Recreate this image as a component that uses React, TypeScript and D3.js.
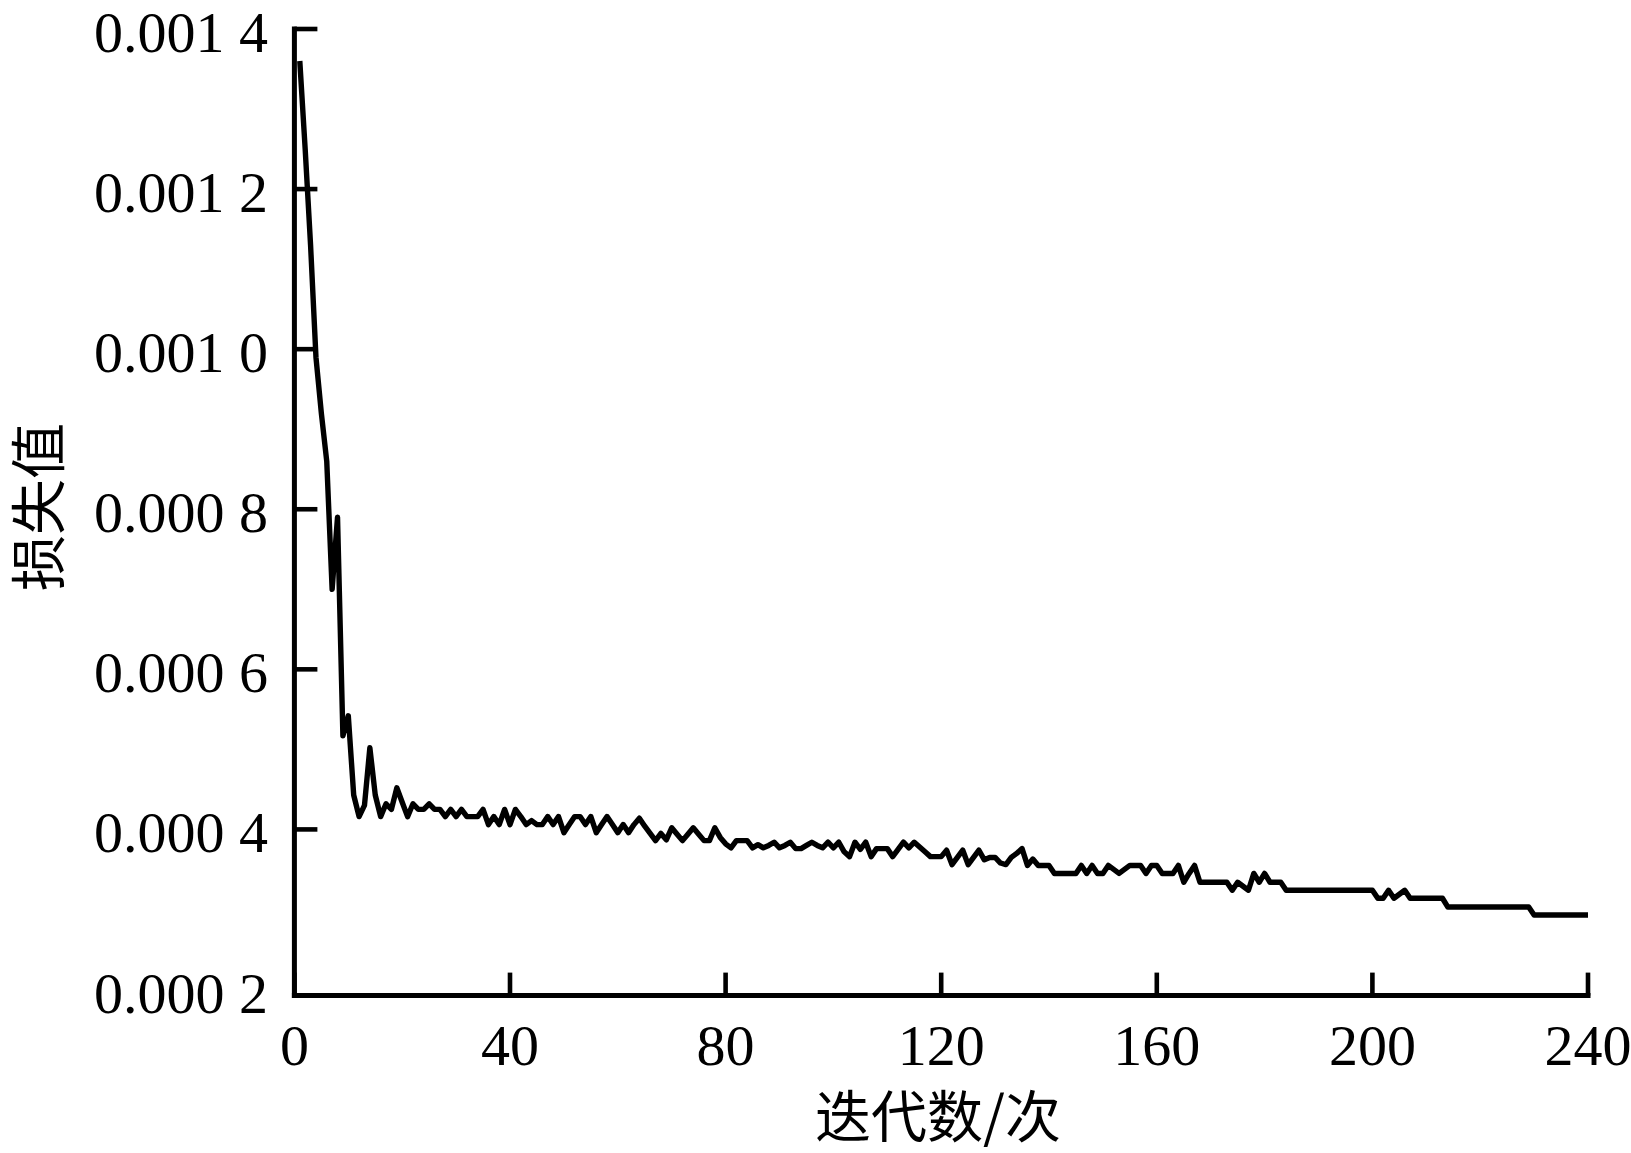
import React from 'react';
import * as d3 from 'd3';

// Loss value per iteration (iterations 1..240)
const lossValues: number[] = [
  0.00136, 0.00125, 0.00113, 0.00099, 0.00092, 0.00086, 0.0007, 0.00079, 0.000517, 0.000542,
  0.000443, 0.000416, 0.00043, 0.000502, 0.000443, 0.000416, 0.000432, 0.000425, 0.000452, 0.000434,
  0.000416, 0.000432, 0.000425, 0.000425, 0.000432, 0.000425, 0.000425, 0.000416, 0.000425, 0.000416,
  0.000425, 0.000416, 0.000416, 0.000416, 0.000425, 0.000406, 0.000416, 0.000406, 0.000425, 0.000406,
  0.000425, 0.000416, 0.000406, 0.000411, 0.000406, 0.000406, 0.000416, 0.000406, 0.000416, 0.000396,
  0.000406, 0.000416, 0.000416, 0.000406, 0.000416, 0.000396, 0.000406, 0.000416, 0.000406, 0.000396,
  0.000406, 0.000396, 0.000406, 0.000414, 0.000404, 0.000395, 0.000386, 0.000395, 0.000387, 0.000402,
  0.000394, 0.000386, 0.000394, 0.000402, 0.000394, 0.000386, 0.000386, 0.000402, 0.00039, 0.000382,
  0.000377, 0.000386, 0.000386, 0.000386, 0.000377, 0.000381, 0.000377, 0.00038, 0.000384, 0.000377,
  0.00038, 0.000384, 0.000376, 0.000376, 0.00038, 0.000384, 0.00038, 0.000377, 0.000384, 0.000377,
  0.000384, 0.000372, 0.000366, 0.000384, 0.000375, 0.000384, 0.000366, 0.000376, 0.000376, 0.000376,
  0.000366, 0.000375, 0.000384, 0.000377, 0.000384, 0.000378, 0.000372, 0.000366, 0.000366, 0.000366,
  0.000374, 0.000356, 0.000365, 0.000374, 0.000356, 0.000365, 0.000374, 0.000362, 0.000365, 0.000365,
  0.000358, 0.000356, 0.000365, 0.00037, 0.000376, 0.000355, 0.000363, 0.000355, 0.000355, 0.000355,
  0.000345, 0.000345, 0.000345, 0.000345, 0.000345, 0.000355, 0.000345, 0.000355, 0.000345, 0.000345,
  0.000355, 0.00035, 0.000345, 0.00035, 0.000355, 0.000355, 0.000355, 0.000345, 0.000355, 0.000355,
  0.000345, 0.000345, 0.000345, 0.000355, 0.000334, 0.000345, 0.000355, 0.000334, 0.000334, 0.000334,
  0.000334, 0.000334, 0.000334, 0.000324, 0.000334, 0.000329, 0.000324, 0.000345, 0.000334, 0.000345,
  0.000334, 0.000334, 0.000334, 0.000324, 0.000324, 0.000324, 0.000324, 0.000324, 0.000324, 0.000324,
  0.000324, 0.000324, 0.000324, 0.000324, 0.000324, 0.000324, 0.000324, 0.000324, 0.000324, 0.000324,
  0.000314, 0.000314, 0.000324, 0.000314, 0.000319, 0.000324, 0.000314, 0.000314, 0.000314, 0.000314,
  0.000314, 0.000314, 0.000314, 0.000303, 0.000303, 0.000303, 0.000303, 0.000303, 0.000303, 0.000303,
  0.000303, 0.000303, 0.000303, 0.000303, 0.000303, 0.000303, 0.000303, 0.000303, 0.000303, 0.000293,
  0.000293, 0.000293, 0.000293, 0.000293, 0.000293, 0.000293, 0.000293, 0.000293, 0.000293, 0.000293,
];

const xTicks: number[] = [0, 40, 80, 120, 160, 200, 240];
const xTickLabels: string[] = ['0', '40', '80', '120', '160', '200', '240'];
const yTicks: number[] = [0.0002, 0.0004, 0.0006, 0.0008, 0.001, 0.0012, 0.0014];
const yTickLabels: string[] = ['0.000 2', '0.000 4', '0.000 6', '0.000 8', '0.001 0', '0.001 2', '0.001 4'];
const xTitle = '迭代数/次';
const yTitle = '损失值';

const W = 1631;
const H = 1153;
const left = 294.4;
const right = 1588;
const top = 29;
const bottom0002 = 989.5;
const axisY = 995.6;
const tickLen = 23;
const serif = '"Liberation Serif", "Times New Roman", serif';
const cjk = '"Noto Sans CJK SC", "Noto Sans CJK JP", sans-serif';

export default function App() {
  const x = d3.scaleLinear().domain([0, 240]).range([left, right]);
  const y = d3.scaleLinear().domain([0.0002, 0.0014]).range([bottom0002, top]);
  const pts = lossValues.map((v, i) => [i + 1, v] as [number, number]);
  const line = d3
    .line<[number, number]>()
    .x((d) => x(d[0]))
    .y((d) => y(d[1]));

  return (
    <svg
      width={W}
      height={H}
      viewBox={`0 0 ${W} ${H}`}
      style={{ position: 'absolute', left: 0, top: 0, background: '#fff' }}
    >
      <rect x={0} y={0} width={W} height={H} fill="#fff" />
      {/* axes */}
      <line x1={left} y1={top - 2.4} x2={left} y2={axisY + 2.5} stroke="#000" strokeWidth={5} />
      <line x1={left - 2.5} y1={axisY} x2={right + 2.5} y2={axisY} stroke="#000" strokeWidth={5} />
      {yTicks.map((t, i) => (
        <g key={'y' + i}>
          {t > 0.00021 && (
            <line x1={left} x2={left + tickLen} y1={y(t)} y2={y(t)} stroke="#000" strokeWidth={4.6} />
          )}
          <text
            x={268}
            y={y(t) + 23}
            textAnchor="end"
            fontFamily={serif}
            fontSize={58}
            fill="#000"
          >
            {yTickLabels[i]}
          </text>
        </g>
      ))}
      {xTicks.map((t, i) => (
        <g key={'x' + i}>
          <line x1={x(t)} x2={x(t)} y1={axisY} y2={axisY - tickLen} stroke="#000" strokeWidth={4.6} />
          <text
            x={x(t)}
            y={1065}
            textAnchor="middle"
            fontFamily={serif}
            fontSize={58}
            fill="#000"
          >
            {xTickLabels[i]}
          </text>
        </g>
      ))}
      <path
        d={line(pts) || ''}
        fill="none"
        stroke="#000"
        strokeWidth={5.4}
        strokeLinejoin="round"
        strokeLinecap="butt"
      />
      <text x={938} y={1137} textAnchor="middle" fontFamily={cjk} fontSize={56} fill="#000">
        {xTitle}
      </text>
      <text
        transform="translate(59,507) rotate(-90)"
        textAnchor="middle"
        fontFamily={cjk}
        fontSize={56}
        fill="#000"
      >
        {yTitle}
      </text>
    </svg>
  );
}
